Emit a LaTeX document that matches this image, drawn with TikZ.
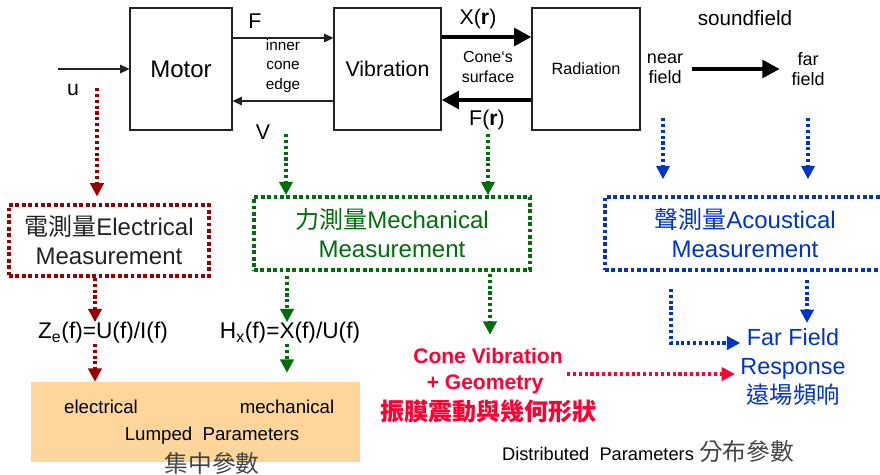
\documentclass[tikz,border=0pt]{standalone}
\usepackage{fontspec}
\setmainfont{Liberation Sans}
\newfontfamily\cjk{Noto Sans CJK TC}
\usetikzlibrary{arrows.meta,calc}
\definecolor{dred}{HTML}{990000}
\definecolor{dgreen}{HTML}{006E0A}
\definecolor{dblue}{HTML}{0033CC}
\definecolor{cred}{HTML}{FF0033}
\definecolor{orng}{HTML}{FED59A}
\definecolor{ink}{HTML}{222222}
\definecolor{cjkgray}{HTML}{444444}
\newcommand{\fs}[2]{\fontsize{#1}{#2}\selectfont}
\begin{document}
\begin{tikzpicture}[x=0.75pt,y=-0.75pt,
  box/.style={draw=ink,line width=0.8pt,inner sep=0pt},
  thinarr/.style={draw=ink,line width=0.8pt,-{Triangle[length=7pt,width=6.5pt]}},
  thickarr/.style={draw=black,line width=3.6pt,-{Triangle[length=13pt,width=13pt]}},
  dotarr/.style={line width=2.3pt,dash pattern=on 2.3pt off 2.1pt,-{Triangle[length=10pt,width=10pt]}},
  dotbox/.style={line width=2.8pt,dash pattern=on 2.8pt off 2pt,inner sep=0pt},
  lbl/.style={inner sep=0pt,text=black},
]
\useasboundingbox (0,0) rectangle (880,474);
\clip (0,0) rectangle (880,474);

% top blocks
\node[box,minimum width=76.5pt,minimum height=91.5pt,font=\fs{18}{22}] (motor) at (181,69) {Motor};
\node[box,minimum width=80.25pt,minimum height=91.5pt,font=\fs{16}{20}] (vib) at (387.5,69) {Vibration};
\node[box,minimum width=81pt,minimum height=91.5pt,font=\fs{12.2}{15}] (rad) at (586,69) {Radiation};

% labels
\node[lbl,font=\fs{16}{19}] (lF) at (255,21) {F};
\node[lbl,font=\fs{11.5}{14.6},align=center] (ice) at (283,66) {inner\\cone\\edge};
\node[lbl,font=\fs{16}{19}] (lV) at (263,132) {V};
\node[lbl,font=\fs{16}{19}] (lu) at (73,90) {u};
\node[lbl,font=\fs{16}{19}] (lX) at (478,19) {X(\textbf{r})};
\node[lbl,font=\fs{16}{19}] (lFr) at (487,120) {F(\textbf{r})};
\node[lbl,font=\fs{12}{14.6},align=center] (cs) at (488,67) {Cone‘s\\surface};
\node[lbl,font=\fs{15.5}{19}] (sf) at (745,18) {soundfield};
\node[lbl,font=\fs{13.5}{15},align=center] (near) at (665,69) {near\\field};
\node[lbl,font=\fs{13.5}{15},align=center] (far) at (808,69) {far\\field};

% measurement boxes
\node[dotbox,draw=dred,text=ink,minimum width=150pt,minimum height=53.25pt,align=center,font=\fs{18}{21.75}] (elec) at (109,240.5) {{\cjk 電測量}Electrical\\Measurement};
\node[dotbox,draw=dgreen,text=dgreen,minimum width=207pt,minimum height=54.75pt,align=center,font=\fs{18}{21.75}] (mech) at (392,233.5) {{\cjk 力測量}Mechanical\\Measurement};
\node[dotbox,draw=dblue,text=dblue,minimum width=210pt,minimum height=54.75pt,align=center,font=\fs{18}{21.75}] (acou) at (745,233.5) {{\cjk 聲測量}Acoustical\\Measurement};

% formulas
\node[lbl,font=\fs{17}{20}] (ze) at (103,333) {Z\textsubscript{e}(f)=U(f)/I(f)};
\node[lbl,font=\fs{17}{20}] (hx) at (290,333) {H\textsubscript{x}(f)=X(f)/U(f)};

% lumped
\node[fill=orng,minimum width=246.75pt,minimum height=60pt,inner sep=0pt] (lumped) at (195.5,422) {};
\node[lbl,font=\fs{14}{16}] (lel) at (101,407) {electrical};
\node[lbl,font=\fs{14}{16}] (lme) at (287,407) {mechanical};
\node[lbl,font=\fs{14}{16}] (lpar) at (212,436) {Lumped\ \ Parameters};
\node[lbl,font=\fs{17.8}{20},text=cjkgray] (lcjk) at (212,463) {\cjk 集中參數};

% cone
\node[lbl,font=\bfseries\fs{15.8}{20},text=cred] (cone1) at (488,356) {Cone Vibration};
\node[lbl,font=\bfseries\fs{15.8}{20},text=cred] (cone2) at (485,384) {+ Geometry};
\node[lbl,font=\fs{18}{20},text=cred] (cone3) at (488,411) {\cjk\bfseries 振膜震動與幾何形狀};

% far field
\node[lbl,font=\fs{17.5}{21.75},align=center,text=dblue] (ff) at (793,367) {Far Field\\Response\\{\cjk 遠場頻响}};

% distributed
\node[lbl,font=\fs{13.7}{16}] (dist) at (648,451) {Distributed\ \ Parameters {\cjk\fs{17.8}{20}\color{cjkgray}分布參數}};

% coordinates
\coordinate (uin) at (58,69);
\coordinate (ustart) at (97,88);
\coordinate (vstart) at (286,134);
\coordinate (frstart) at (488,134);
\coordinate (nstart) at (663,118);
\coordinate (fstart) at (808,118);
\coordinate (gstart) at (567,374);

% solid arrows
\draw[thinarr] (uin) -- (motor.west);
\draw[thinarr] (motor.east |- 0,38) -- (vib.west |- 0,38);
\draw[thinarr] (vib.west |- 0,101) -- (motor.east |- 0,101);
\draw[thickarr] (vib.east |- 0,37) -- (rad.west |- 0,37);
\draw[thickarr] (rad.west |- 0,100) -- (vib.east |- 0,100);
\draw[thickarr] ([xshift=6.75pt]near.east) -- ([xshift=-8.6pt]far.west);

% dotted arrows
\draw[dotarr,dred,shorten >=5pt] (ustart) -- (elec.north -| ustart);
\draw[dotarr,dgreen] (vstart) -- (mech.north -| vstart);
\draw[dotarr,dgreen] (frstart) -- (mech.north -| frstart);
\draw[dotarr,dblue,shorten >=12pt] (nstart) -- (acou.north -| nstart);
\draw[dotarr,dblue,shorten >=12pt] (fstart) -- (acou.north -| fstart);

\draw[dotarr,dred] (elec.south -| 95,0) -- (ze.north -| 95,0);
\draw[dotarr,dred] (ze.south -| 95,0) -- (lumped.north -| 95,0);
\draw[dotarr,dgreen,shorten <=3pt] (mech.south -| 287,0) -- (hx.north -| 287,0);
\draw[dotarr,dgreen,shorten >=6.75pt] (hx.south -| 287,0) -- (lumped.north -| 287,0);
\draw[dotarr,dgreen,shorten <=1.5pt,shorten >=10pt] (mech.south -| 490,0) -- (cone1.north -| 490,0);

\draw[dotarr,dblue,shorten <=12.75pt] (acou.south -| 671,0) |- (ff.west |- 0,343);
\draw[dotarr,dblue,shorten <=6pt,shorten >=4pt] (acou.south -| 807,0) -- (ff.north -| 807,0);
\draw[dotarr,cred,shorten >=4pt] (gstart) -- (ff.west |- gstart);
\end{tikzpicture}
\end{document}
